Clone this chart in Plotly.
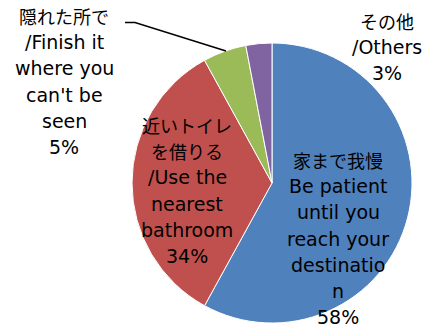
import plotly.graph_objects as go

# Survey answers, clockwise from 12 o'clock
categories = ["家まで我慢", "近いトイレを借りる", "隠れた所で", "その他"]
values = [58, 34, 5, 3]
colors = ["#4F81BD", "#C0504D", "#9BBB59", "#8064A2"]

# Label lines (the percentage line is appended from the values)
label_lines = [
    ["家まで我慢", "Be patient", "until you", "reach your", "destinatio", "n"],
    ["近いトイレ", "を借りる", "/Use the", "nearest", "bathroom"],
    ["隠れた所で", "/Finish it", "where you", "can't be", "seen"],
    ["その他", "/Others"],
]
# Centre x and first-line y of each label block (pixels from top-left)
label_anchor = [(338, 160), (187, 125), (64, 16), (387, 21)]
line_step = 26.2

W, H = 427, 327
LATIN_FONT = "DejaVu Sans, sans-serif"
CJK_FONT = "Noto Sans CJK JP"


def is_cjk(s):
    return any(ord(c) > 0x2E80 for c in s)


fig = go.Figure(
    go.Pie(
        labels=categories,
        values=values,
        sort=False,
        direction="clockwise",
        rotation=0,
        marker=dict(colors=colors, line=dict(color="white", width=1)),
        textinfo="none",
        hoverinfo="label+percent",
        showlegend=False,
        domain=dict(x=[132 / W, 412 / W], y=[1 - 323 / H, 1 - 43 / H]),
    )
)

annotations = []
for lines, val, (cx, y0) in zip(label_lines, values, label_anchor):
    for i, t in enumerate(lines + [f"{val}%"]):
        cjk = is_cjk(t)
        annotations.append(
            dict(
                x=cx / W, y=1 - (y0 + i * line_step) / H,
                xref="paper", yref="paper",
                text=t, showarrow=False,
                xanchor="center", yanchor="middle",
                font=dict(family=CJK_FONT if cjk else LATIN_FONT,
                          size=18 if cjk else 19, color="black"),
            )
        )

# Leader line from the "hidden place" label to its slice
leader = [(125, 22.5), (135, 22.5), (226, 51)]
path = "M " + " L ".join(f"{x / W},{1 - y / H}" for x, y in leader)
fig.add_shape(type="path", path=path, xref="paper", yref="paper",
              line=dict(color="black", width=1.5))

fig.update_layout(
    width=W, height=H,
    margin=dict(l=0, r=0, t=0, b=0),
    paper_bgcolor="white", plot_bgcolor="white",
    annotations=annotations,
)

fig.write_html("out.html")
